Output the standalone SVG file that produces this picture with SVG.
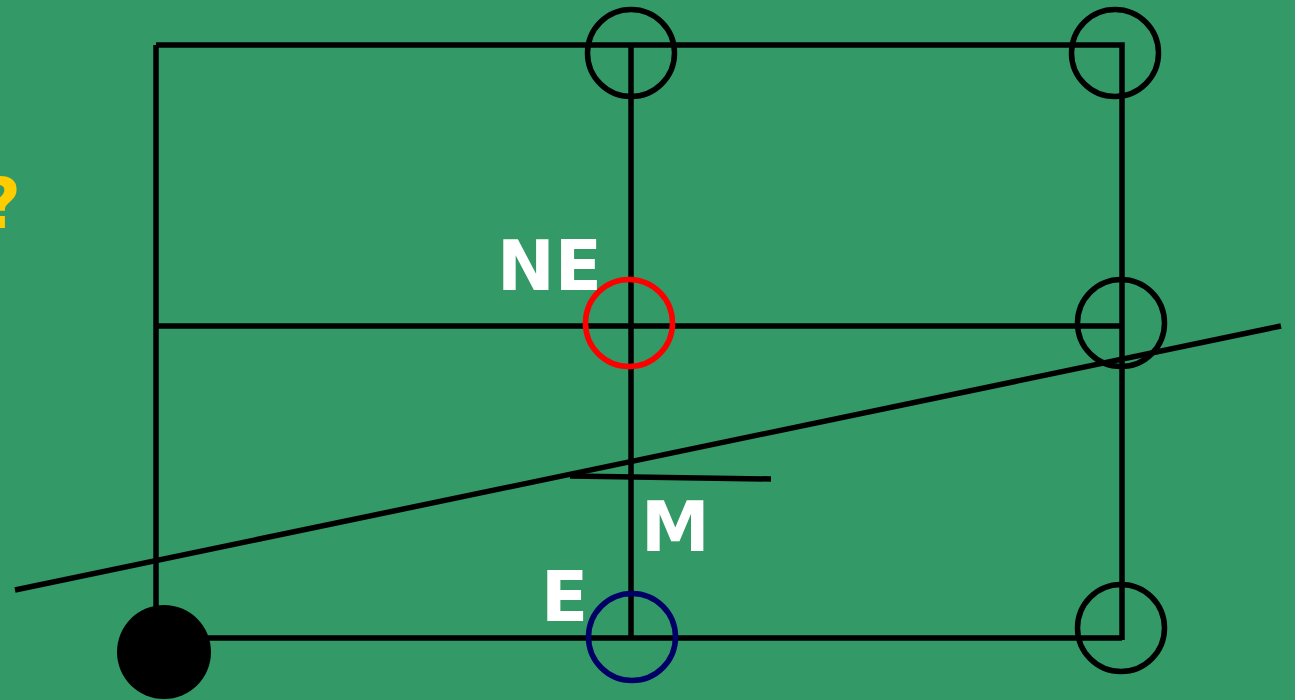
<svg xmlns="http://www.w3.org/2000/svg" width="1295" height="700" viewBox="0 0 1295 700">
<style>
.ln{stroke:#000;stroke-width:5.5;fill:none}
.c{fill:none;stroke-width:5.5}
.t{font-family:"DejaVu Sans","Open Sans",sans-serif;font-weight:bold;fill:#fff;font-size:69px}
</style>
<rect width="1295" height="700" fill="#339966"/>
<g id="connectors">
<path class="ln" d="M156,45 H1122 V640 M156,45 V640 M631,45 V640 M156,326 H1122 M156,638 H1122"/>
<line class="ln" x1="15" y1="590" x2="1281" y2="326"/>
<line class="ln" x1="570" y1="476" x2="771" y2="479"/>
</g>
<g id="n1"><circle class="c" stroke="#000" cx="631" cy="53" r="43.5"/></g>
<g id="n2"><circle class="c" stroke="#000" cx="1115" cy="53" r="43.5"/></g>
<g id="n3"><circle class="c" stroke="#000" cx="1121" cy="323" r="43.5"/></g>
<g id="n4"><circle class="c" stroke="#000" cx="1121" cy="628" r="43.5"/></g>
<g id="ne"><circle class="c" stroke="#ff0000" cx="629" cy="323" r="43.5"/><text class="t" x="497" y="290">NE</text></g>
<g id="e"><circle class="c" stroke="#000066" cx="632" cy="637" r="43.5"/><text class="t" x="541" y="621">E</text></g>
<g id="m"><text class="t" x="641" y="551">M</text></g>
<g id="p"><circle cx="164" cy="652" r="47" fill="#000"/></g>
<text x="-19" y="228" style="font-family:'DejaVu Sans','Open Sans',sans-serif;font-weight:bold;font-size:69px;fill:#ffcc00">?</text>
</svg>
